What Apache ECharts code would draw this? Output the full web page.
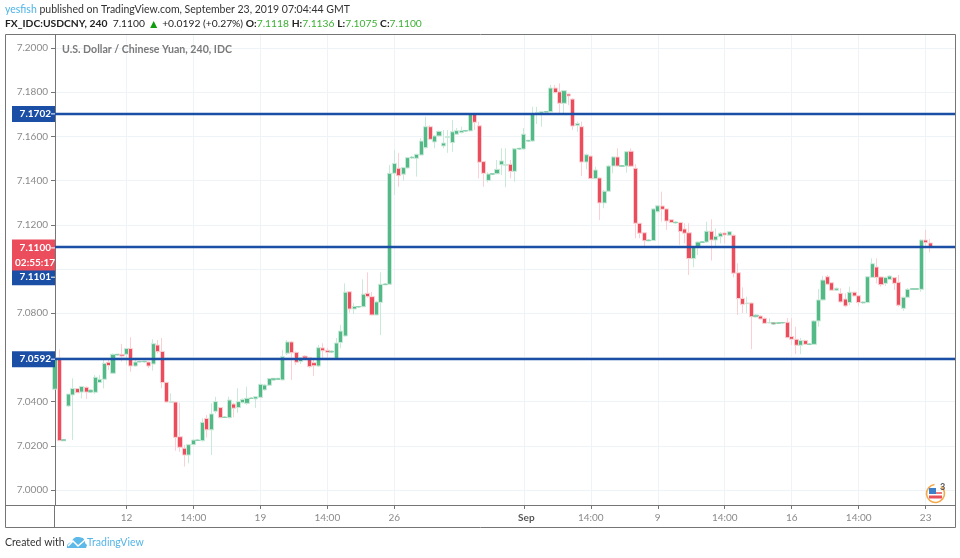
<!DOCTYPE html>
<html>
<head>
<meta charset="utf-8">
<title>USDCNY 240</title>
<script src="https://cdn.jsdelivr.net/npm/echarts@6/dist/echarts.min.js"></script>
<style>
  html, body { margin: 0; padding: 0; background: #fff; }
  #chart { width: 960px; height: 558px; }
</style>
</head>
<body>
<div id="chart"></div>
<script>
// price data, one value per 4h bar
const opens = [
  7.0456,7.0597,7.0223,7.0380,7.0430,7.0459,7.0443,7.0465,7.0443,7.0442,
  7.0486,7.0501,7.0578,7.0528,7.0611,7.0614,7.0614,7.0640,7.0561,7.0580,
  7.0580,7.0579,7.0570,7.0656,7.0627,7.0487,7.0397,7.0398,7.0241,7.0189,
  7.0158,7.0205,7.0224,7.0223,7.0324,7.0272,7.0356,7.0373,7.0328,7.0327,
  7.0389,7.0373,7.0395,7.0392,7.0414,7.0412,7.0419,7.0453,7.0474,7.0498,
  7.0500,7.0498,7.0619,7.0670,7.0623,7.0581,7.0606,7.0599,7.0576,7.0561,
  7.0643,7.0632,7.0624,7.0593,7.0667,7.0697,7.0897,7.0819,7.0828,7.0829,
  7.0890,7.0875,7.0792,7.0849,7.0929,7.0931,7.1433,7.1456,7.1429,7.1457,
  7.1503,7.1501,7.1516,7.1549,7.1644,7.1575,7.1602,7.1557,7.1596,7.1572,
  7.1610,7.1617,7.1624,7.1625,7.1700,7.1648,7.1486,7.1401,7.1429,7.1431,
  7.1472,7.1470,7.1474,7.1442,7.1543,7.1543,7.1579,7.1579,7.1701,7.1705,
  7.1710,7.1712,7.1819,7.1802,7.1750,7.1792,7.1769,7.1650,7.1644,7.1484,
  7.1511,7.1409,7.1412,7.1299,7.1352,7.1466,7.1507,7.1465,7.1466,7.1533,
  7.1456,7.1207,7.1164,7.1128,7.1129,7.1259,7.1285,7.1272,7.1223,7.1209,
  7.1211,7.1181,7.1164,7.1047,7.1098,7.1120,7.1122,7.1171,7.1131,7.1146,
  7.1163,7.1153,7.1153,7.0983,7.0867,7.0843,7.0846,7.0784,7.0787,7.0777,
  7.0756,7.0757,7.0754,7.0756,7.0759,7.0695,7.0682,7.0655,7.0676,7.0658,
  7.0659,7.0765,7.0860,7.0965,7.0938,7.0904,7.0890,7.0864,7.0848,7.0895,
  7.0879,7.0847,7.0848,7.0962,7.1009,7.0964,7.0935,7.0952,7.0961,7.0940,
  7.0822,7.0872,7.0908,7.0908,7.0908,7.1131,7.1118
];
const closes = [
  7.0596,7.0223,7.0228,7.0434,7.0459,7.0440,7.0468,7.0443,7.0452,7.0510,
  7.0501,7.0573,7.0563,7.0614,7.0614,7.0606,7.0640,7.0561,7.0579,7.0581,
  7.0582,7.0561,7.0662,7.0626,7.0486,7.0398,7.0399,7.0238,7.0193,7.0158,
  7.0205,7.0226,7.0226,7.0306,7.0272,7.0344,7.0400,7.0327,7.0330,7.0407,
  7.0370,7.0400,7.0410,7.0415,7.0416,7.0422,7.0478,7.0475,7.0504,7.0505,
  7.0505,7.0603,7.0670,7.0621,7.0578,7.0599,7.0596,7.0558,7.0562,7.0644,
  7.0630,7.0623,7.0628,7.0665,7.0719,7.0895,7.0819,7.0831,7.0830,7.0886,
  7.0875,7.0792,7.0851,7.0931,7.0932,7.1433,7.1478,7.1422,7.1459,7.1504,
  7.1506,7.1519,7.1579,7.1644,7.1587,7.1602,7.1623,7.1570,7.1598,7.1621,
  7.1626,7.1626,7.1627,7.1700,7.1664,7.1483,7.1433,7.1430,7.1432,7.1451,
  7.1489,7.1473,7.1442,7.1544,7.1546,7.1610,7.1582,7.1700,7.1708,7.1712,
  7.1713,7.1819,7.1798,7.1750,7.1807,7.1783,7.1647,7.1659,7.1484,7.1517,
  7.1409,7.1448,7.1299,7.1352,7.1466,7.1507,7.1466,7.1468,7.1531,7.1465,
  7.1207,7.1162,7.1128,7.1131,7.1272,7.1286,7.1270,7.1217,7.1210,7.1212,
  7.1169,7.1162,7.1047,7.1098,7.1122,7.1123,7.1171,7.1131,7.1148,7.1162,
  7.1154,7.1169,7.0981,7.0866,7.0840,7.0846,7.0784,7.0791,7.0774,7.0754,
  7.0758,7.0751,7.0757,7.0758,7.0689,7.0682,7.0655,7.0676,7.0659,7.0661,
  7.0765,7.0860,7.0950,7.0931,7.0904,7.0913,7.0851,7.0833,7.0895,7.0878,
  7.0848,7.0850,7.0965,7.1024,7.0962,7.0929,7.0962,7.0968,7.0935,7.0836,
  7.0872,7.0908,7.0911,7.0911,7.1131,7.1119,7.1100
];
const lows = [
  7.0456,7.0223,7.0223,7.0377,7.0226,7.0438,7.0415,7.0412,7.0442,7.0434,
  7.0484,7.0460,7.0543,7.0525,7.0610,7.0581,7.0566,7.0535,7.0558,7.0578,
  7.0578,7.0551,7.0540,7.0618,7.0460,7.0395,7.0396,7.0178,7.0173,7.0106,
  7.0121,7.0205,7.0222,7.0219,7.0238,7.0158,7.0347,7.0325,7.0326,7.0324,
  7.0329,7.0350,7.0392,7.0385,7.0413,7.0371,7.0417,7.0450,7.0472,7.0497,
  7.0499,7.0496,7.0611,7.0498,7.0566,7.0570,7.0594,7.0551,7.0516,7.0556,
  7.0588,7.0588,7.0622,7.0591,7.0641,7.0695,7.0802,7.0796,7.0826,7.0827,
  7.0869,7.0790,7.0790,7.0701,7.0928,7.0929,7.1335,7.1372,7.1400,7.1455,
  7.1501,7.1418,7.1514,7.1546,7.1583,7.1546,7.1600,7.1546,7.1526,7.1531,
  7.1607,7.1614,7.1622,7.1622,7.1629,7.1410,7.1372,7.1392,7.1427,7.1429,
  7.1425,7.1370,7.1410,7.1395,7.1541,7.1540,7.1577,7.1576,7.1656,7.1644,
  7.1708,7.1710,7.1795,7.1706,7.1701,7.1742,7.1629,7.1621,7.1421,7.1451,
  7.1407,7.1406,7.1222,7.1275,7.1350,7.1433,7.1463,7.1463,7.1436,7.1463,
  7.1139,7.1139,7.1101,7.1126,7.1127,7.1257,7.1214,7.1177,7.1208,7.1207,
  7.1109,7.1116,7.0973,7.1008,7.1063,7.1118,7.1119,7.1038,7.1094,7.1116,
  7.1116,7.1151,7.0962,7.0792,7.0800,7.0800,7.0637,7.0782,7.0772,7.0752,
  7.0754,7.0749,7.0752,7.0754,7.0687,7.0656,7.0615,7.0615,7.0656,7.0656,
  7.0657,7.0739,7.0857,7.0928,7.0901,7.0902,7.0848,7.0827,7.0837,7.0875,
  7.0833,7.0845,7.0846,7.0960,7.0935,7.0920,7.0923,7.0950,7.0905,7.0829,
  7.0811,7.0870,7.0906,7.0906,7.0897,7.1094,7.1075
];
const highs = [
  7.0596,7.0636,7.0228,7.0434,7.0505,7.0459,7.0471,7.0468,7.0453,7.0520,
  7.0520,7.0588,7.0596,7.0618,7.0615,7.0661,7.0640,7.0691,7.0588,7.0583,
  7.0584,7.0581,7.0682,7.0679,7.0688,7.0490,7.0437,7.0400,7.0395,7.0204,
  7.0208,7.0229,7.0228,7.0324,7.0339,7.0392,7.0422,7.0375,7.0332,7.0422,
  7.0395,7.0460,7.0415,7.0467,7.0418,7.0424,7.0481,7.0480,7.0506,7.0507,
  7.0507,7.0634,7.0679,7.0675,7.0627,7.0600,7.0611,7.0603,7.0588,7.0656,
  7.0664,7.0643,7.0630,7.0688,7.0747,7.0935,7.0900,7.0845,7.0832,7.0953,
  7.0985,7.0896,7.0856,7.0985,7.0934,7.1471,7.1539,7.1526,7.1462,7.1508,
  7.1509,7.1522,7.1593,7.1689,7.1651,7.1606,7.1626,7.1629,7.1629,7.1674,
  7.1638,7.1644,7.1629,7.1706,7.1707,7.1667,7.1488,7.1438,7.1434,7.1493,
  7.1546,7.1546,7.1493,7.1547,7.1548,7.1638,7.1584,7.1734,7.1734,7.1714,
  7.1715,7.1833,7.1833,7.1840,7.1810,7.1795,7.1772,7.1667,7.1667,7.1523,
  7.1513,7.1463,7.1415,7.1358,7.1471,7.1511,7.1546,7.1470,7.1535,7.1546,
  7.1475,7.1209,7.1168,7.1133,7.1275,7.1290,7.1350,7.1275,7.1226,7.1214,
  7.1213,7.1207,7.1207,7.1104,7.1125,7.1125,7.1214,7.1225,7.1184,7.1167,
  7.1166,7.1172,7.1157,7.1026,7.0917,7.0875,7.0849,7.0793,7.0790,7.0780,
  7.0777,7.0759,7.0759,7.0760,7.0778,7.0777,7.0739,7.0688,7.0680,7.0663,
  7.0769,7.0910,7.0968,7.0973,7.0941,7.0916,7.0913,7.0890,7.0920,7.0897,
  7.0881,7.0852,7.0968,7.1048,7.1048,7.0967,7.0965,7.0971,7.0964,7.0973,
  7.0875,7.0914,7.0913,7.0913,7.1134,7.1177,7.1136
];

// axis ticks
const priceTicks = [7.00, 7.02, 7.04, 7.06, 7.08, 7.10, 7.12, 7.14, 7.16, 7.18, 7.20];
const timeTickBars = [16, 31, 46, 61, 76, 105, 120, 135, 150, 165, 180, 195];
const timeTickLabels = ['12', '14:00', '19', '14:00', '26', 'Sep', '14:00', '9', '14:00', '16', '14:00', '23'];

// horizontal lines drawn by the author, plus the last price tag
const levels = [7.1702, 7.1101, 7.0592];
const lastPrice = 7.1100;
const countdown = '02:55:17';

const FONT = 'Lato, "Open Sans", sans-serif';
const GREEN = '#53b987';
const RED = '#eb4d5c';
const BLUE = '#1b4fa6';
const GRID = '#eef3f7';
const AXIS = '#757575';
const LABEL = '#8a8a8a';

// flat little bars have no body to speak of, so give their outline some colour
const candles = opens.map((o, i) => {
  const item = { value: [i, o, closes[i], lows[i], highs[i]] };
  if (highs[i] - lows[i] < 0.0012) {
    item.itemStyle = { borderColor: '#8fd0b0', borderColor0: '#f28d96' };
  }
  return item;
});

// little tag on the price scale for a level
const levelLabel = (extra) => Object.assign({
  show: true,
  position: 'start',
  distance: 0,
  color: '#fff',
  fontFamily: FONT,
  fontSize: 10,
  fontWeight: 'bold',
  backgroundColor: BLUE,
  padding: [2, 0, 2, 7],
  formatter: (p) => '{v|' + p.value.toFixed(4) + '}{t|}',
  rich: {
    v: { color: '#fff', fontFamily: FONT, fontSize: 10, fontWeight: 'bold', width: 32, height: 12 },
    t: { width: 4, height: 1, backgroundColor: '#fff' }
  }
}, extra);

const chart = echarts.init(document.getElementById('chart'), null, { renderer: 'canvas' });

const options = {
  animation: false,
  backgroundColor: '#fff',
  textStyle: { fontFamily: FONT },
  title: [
    {
      left: 5, top: 4, padding: 0,
      text: '{u|yesfish} published on TradingView.com, September 23, 2019 07:04:44 GMT',
      textStyle: {
        fontFamily: FONT, fontSize: 10.5, fontWeight: 'normal', color: '#333',
        rich: { u: { color: '#4db3e6', fontFamily: FONT, fontSize: 10.5 } }
      }
    },
    {
      left: 5, top: 18, padding: 0,
      text: '{b|FX_IDC:USDCNY, 240}  7.1100 {up|▲} +0.0192 (+0.27%) {b|O:}{g|7.1118} {b|H:}{g|7.1136} {b|L:}{g|7.1075} {b|C:}{g|7.1100}',
      textStyle: {
        fontFamily: FONT, fontSize: 10.3, fontWeight: 'normal', color: '#222',
        rich: {
          b: { fontFamily: FONT, fontSize: 10.3, fontWeight: 'bold', color: '#222' },
          g: { fontFamily: FONT, fontSize: 10.3, color: '#3cb034' },
          up: { fontSize: 12, color: '#0f9d0f' }
        }
      }
    },
    {
      left: 62, top: 44, padding: 0,
      text: 'U.S. Dollar / Chinese Yuan, 240, IDC',
      textStyle: { fontFamily: FONT, fontSize: 10.6, fontWeight: 'bold', color: '#7a7a7a' }
    },
    {
      left: 5, top: 537, padding: 0,
      text: 'Created with',
      textStyle: { fontFamily: FONT, fontSize: 10.5, fontWeight: 'normal', color: '#333' }
    },
    {
      left: 87, top: 537, padding: 0,
      text: 'TradingView',
      textStyle: { fontFamily: FONT, fontSize: 10.5, fontWeight: 'normal', color: '#55b5e8' }
    }
  ],
  grid: { left: 55, right: 5, top: 35, bottom: 53, containLabel: false },
  xAxis: {
    type: 'value',
    min: 0,
    max: 201.57,
    axisLine: { show: true, onZero: false, lineStyle: { color: AXIS } },
    axisTick: { show: true, length: 4, customValues: timeTickBars, lineStyle: { color: AXIS } },
    axisLabel: {
      customValues: timeTickBars,
      margin: 8,
      color: LABEL,
      fontFamily: FONT,
      fontSize: 10,
      showMinLabel: true,
      showMaxLabel: true,
      formatter: (v) => {
        const s = timeTickLabels[timeTickBars.indexOf(v)];
        return s === 'Sep' ? '{m|Sep}' : s;
      },
      rich: { m: { fontFamily: FONT, fontSize: 10, fontWeight: 'bold', color: '#555', padding: [0, 0, 0, 5] } }
    },
    splitLine: { show: true, lineStyle: { color: GRID, width: 1 } }
  },
  yAxis: {
    type: 'value',
    position: 'left',
    min: 6.9932,
    max: 7.2059,
    axisLine: { show: true, lineStyle: { color: AXIS } },
    axisTick: { show: true, length: 4, customValues: priceTicks, lineStyle: { color: AXIS } },
    axisLabel: {
      customValues: priceTicks,
      margin: 7,
      color: LABEL,
      fontFamily: FONT,
      fontSize: 10,
      formatter: (v) => v.toFixed(4)
    },
    splitLine: { show: true, lineStyle: { color: GRID, width: 1 } }
  },
  series: [
    {
      type: 'candlestick',
      data: candles,
      encode: { x: 0, y: [1, 2, 3, 4] },
      barWidth: 4.6,
      clip: true,
      itemStyle: {
        color: GREEN,
        color0: RED,
        borderColor: '#c9e9d9',
        borderColor0: '#fbd0d4',
        borderWidth: 1
      },
      markLine: {
        silent: true,
        symbol: 'none',
        animation: false,
        precision: 4,
        lineStyle: { color: BLUE, width: 2.4, type: 'solid' },
        data: [
          { yAxis: levels[0], label: levelLabel() },
          { yAxis: levels[1], label: levelLabel({ offset: [0, 30.5] }) },
          { yAxis: levels[2], label: levelLabel() },
          {
            yAxis: lastPrice,
            lineStyle: { color: 'rgba(0,0,0,0)', width: 1 },
            label: levelLabel({
              offset: [0, 8],
              backgroundColor: RED,
              padding: [1, 0, 0, 3],
              formatter: (p) => '{v|' + p.value.toFixed(4) + '}{t|}\n{c|' + countdown + '}',
              rich: {
                v: { color: '#fff', fontFamily: FONT, fontSize: 10, fontWeight: 'bold', width: 32, padding: [0, 0, 0, 4], height: 15 },
                t: { width: 4, height: 1, backgroundColor: '#fff' },
                c: { color: '#fff', fontFamily: FONT, fontSize: 10, width: 40, height: 15 }
              }
            })
          }
        ]
      }
    }
  ],
  graphic: [
    // outer frame and the part of the price axis below the time axis
    { type: 'rect', shape: { x: 5.5, y: 34.5, width: 950, height: 493 }, style: { fill: 'none', stroke: AXIS, lineWidth: 1 }, silent: true, z: 1 },
    { type: 'line', shape: { x1: 54.5, y1: 505, x2: 54.5, y2: 528 }, style: { stroke: AXIS, lineWidth: 1 }, silent: true },
    { type: 'line', shape: { x1: 5, y1: 505.5, x2: 55, y2: 505.5 }, style: { stroke: AXIS, lineWidth: 1 }, silent: true },
    // TradingView logo: cloud with a white zigzag
    {
      type: 'polygon',
      shape: { points: [[67, 548], [67, 545], [69, 543], [72, 542], [73, 539], [76, 537], [79, 537], [83, 538], [85, 541], [85, 543], [87, 545], [86, 548]] },
      style: { fill: '#5cb9e8' },
      silent: true
    },
    {
      type: 'polyline',
      shape: { points: [[68, 546], [73, 541], [78, 546], [85, 540]] },
      style: { stroke: '#fff', fill: 'none', lineWidth: 1.5 },
      silent: true
    },
    // news flag badge
    { type: 'arc', shape: { cx: 935.5, cy: 493.5, r: 9, startAngle: -0.9, endAngle: 4.6 }, style: { stroke: '#f5a94a', fill: 'none', lineWidth: 1.6 }, silent: true, z: 10 },
    { type: 'rect', shape: { x: 929, y: 488, width: 7, height: 6 }, style: { fill: '#3d7fc9' }, silent: true, z: 11 },
    { type: 'rect', shape: { x: 936, y: 492, width: 6, height: 2 }, style: { fill: '#ee7a80' }, silent: true, z: 11 },
    { type: 'rect', shape: { x: 929, y: 495.5, width: 13, height: 3 }, style: { fill: '#e8505b' }, silent: true, z: 11 },
    { type: 'text', x: 940, y: 483, style: { text: '3', fill: '#555', font: 'bold 9px ' + FONT }, silent: true, z: 11 }
  ]
};

chart.setOption(options);
</script>
</body>
</html>
